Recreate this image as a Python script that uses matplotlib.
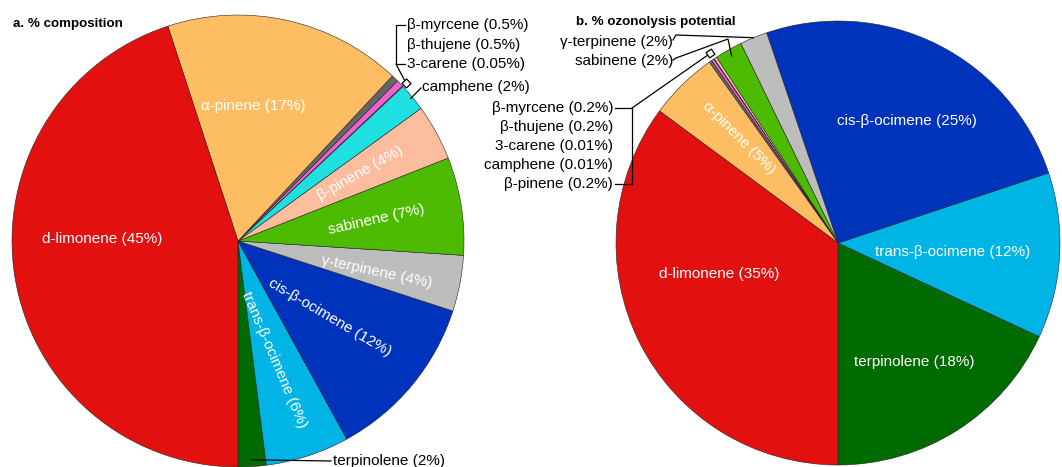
import numpy as np
import matplotlib.pyplot as plt

plt.rcParams['font.family'] = ['Liberation Sans', 'DejaVu Sans']

# wedge order: from the bottom, counter-clockwise
names = ['terpinolene', 'trans-β-ocimene', 'cis-β-ocimene', 'γ-terpinene', 'sabinene',
         'β-pinene', 'camphene', '3-carene', 'β-thujene', 'β-myrcene', 'α-pinene', 'd-limonene']
comp_vals = [2, 6, 12, 4, 7, 4, 2, 0.05, 0.5, 0.5, 17, 45]        # a. % composition
ozone_vals = [18, 12, 25, 2, 2, 0.2, 0.01, 0.01, 0.2, 0.2, 5, 35]  # b. % ozonolysis potential

colors = {'terpinolene': '#006b00', 'trans-β-ocimene': '#00b4e6', 'cis-β-ocimene': '#0033bb',
          'γ-terpinene': '#bdbdbd', 'sabinene': '#4cbb00', 'β-pinene': '#fcbc9e',
          'camphene': '#1fe0e0', '3-carene': '#ffffff', 'β-thujene': '#f060d0',
          'β-myrcene': '#666666', 'α-pinene': '#fdbe63', 'd-limonene': '#e31010'}

H = 467


def Y(y):
    return H - y


fig = plt.figure(figsize=(10.62, 4.67), dpi=100)
ax = fig.add_axes([0, 0, 1, 1])


def draw_pie(vals, center, radius):
    wedges, _ = ax.pie(vals, colors=[colors[n] for n in names], startangle=-90,
                       counterclock=True, center=center, radius=radius,
                       wedgeprops=dict(edgecolor='#222222', linewidth=0.4))
    return dict(zip(names, wedges))


def tip(w, f, off=0):
    th = np.radians((w.theta1 + w.theta2) / 2 + off)
    return w.center[0] + w.r * f * np.cos(th), w.center[1] + w.r * f * np.sin(th)


def label(vals, n):
    return f'{n} ({vals[names.index(n)]:g}%)'


def inner(wd, vals, n, f, off, rot, fs=11):
    x, y = tip(wd[n], f, off)
    ax.text(x, y, label(vals, n), color='white', fontsize=fs, rotation=rot,
            ha='center', va='center', rotation_mode='anchor')


def line(pts):
    xs, ys = zip(*pts)
    ax.plot(xs, ys, color='black', lw=0.9, solid_joinstyle='miter')


def box(w, f):
    x, y = tip(w, f)
    ang = (w.theta1 + w.theta2) / 2
    ax.plot(x, y, marker=(4, 0, ang + 45), ms=6.5, mfc='white', mec='black', mew=0.9)


# ---- a. % composition ----
wa = draw_pie(comp_vals, (238, Y(241)), 226)
inner(wa, comp_vals, 'd-limonene', 0.6, -10, 0)
inner(wa, comp_vals, 'α-pinene', 0.6, 6, 0)
inner(wa, comp_vals, 'β-pinene', 0.62, 0, 29.5)
inner(wa, comp_vals, 'sabinene', 0.62, 0, 12.5)
inner(wa, comp_vals, 'γ-terpinene', 0.63, -1.5, -12)
inner(wa, comp_vals, 'cis-β-ocimene', 0.53, 0, -30.5)
inner(wa, comp_vals, 'trans-β-ocimene', 0.55, -1, -67)

fs_out = 11
for n, y in [('β-myrcene', 25), ('β-thujene', 45), ('3-carene', 64)]:
    ax.text(407, Y(y), label(comp_vals, n), fontsize=fs_out, ha='left', va='center')
ax.text(422, Y(87), label(comp_vals, 'camphene'), fontsize=fs_out, ha='left', va='center')
ax.text(333, Y(461), label(comp_vals, 'terpinolene'), fontsize=fs_out, ha='left', va='center')

line([(405, Y(25)), (396, Y(25)), (396, Y(64)), (405, Y(64))])
line([(396, Y(64)), tip(wa['3-carene'], 1.02)])
box(wa['3-carene'], 1.02)
line([(421, Y(88)), tip(wa['camphene'], 0.99)])
line([(331, Y(461)), tip(wa['terpinolene'], 0.97)])

ax.text(13, Y(24), 'a. % composition', fontsize=9.6, fontweight='bold', ha='left', va='center')

# ---- b. % ozonolysis potential ----
wb = draw_pie(ozone_vals, (838, Y(243)), 222)
inner(wb, ozone_vals, 'cis-β-ocimene', 0.63, -3, 0)
inner(wb, ozone_vals, 'trans-β-ocimene', 0.52, -1, 0)
inner(wb, ozone_vals, 'terpinolene', 0.635, 0, 0)
inner(wb, ozone_vals, 'd-limonene', 0.555, -12, 0)
inner(wb, ozone_vals, 'α-pinene', 0.65, -1, -45)

for n, y in [('β-myrcene', 108), ('β-thujene', 127), ('3-carene', 146),
             ('camphene', 165), ('β-pinene', 184)]:
    ax.text(613, Y(y), label(ozone_vals, n), fontsize=fs_out, ha='right', va='center')
for n, y in [('γ-terpinene', 42), ('sabinene', 61)]:
    ax.text(673, Y(y), label(ozone_vals, n), fontsize=fs_out, ha='right', va='center')

line([(615, Y(108)), (632, Y(108)), (632, Y(184)), (615, Y(184))])
line([(632, Y(108)), tip(wb['3-carene'], 1.03)])
box(wb['3-carene'], 1.03)
line([(673, Y(40)), (676, Y(35)), tip(wb['γ-terpinene'], 1.0)])
line([(673, Y(60)), (676, Y(58)), (728, Y(39)), tip(wb['sabinene'], 0.97)])

ax.text(576, Y(22), 'b. % ozonolysis potential', fontsize=9.6, fontweight='bold',
        ha='left', va='center')

ax.set_xlim(0, 1062)
ax.set_ylim(0, H)
ax.set_aspect('equal')
ax.axis('off')

fig.savefig('out.png', dpi=100)
